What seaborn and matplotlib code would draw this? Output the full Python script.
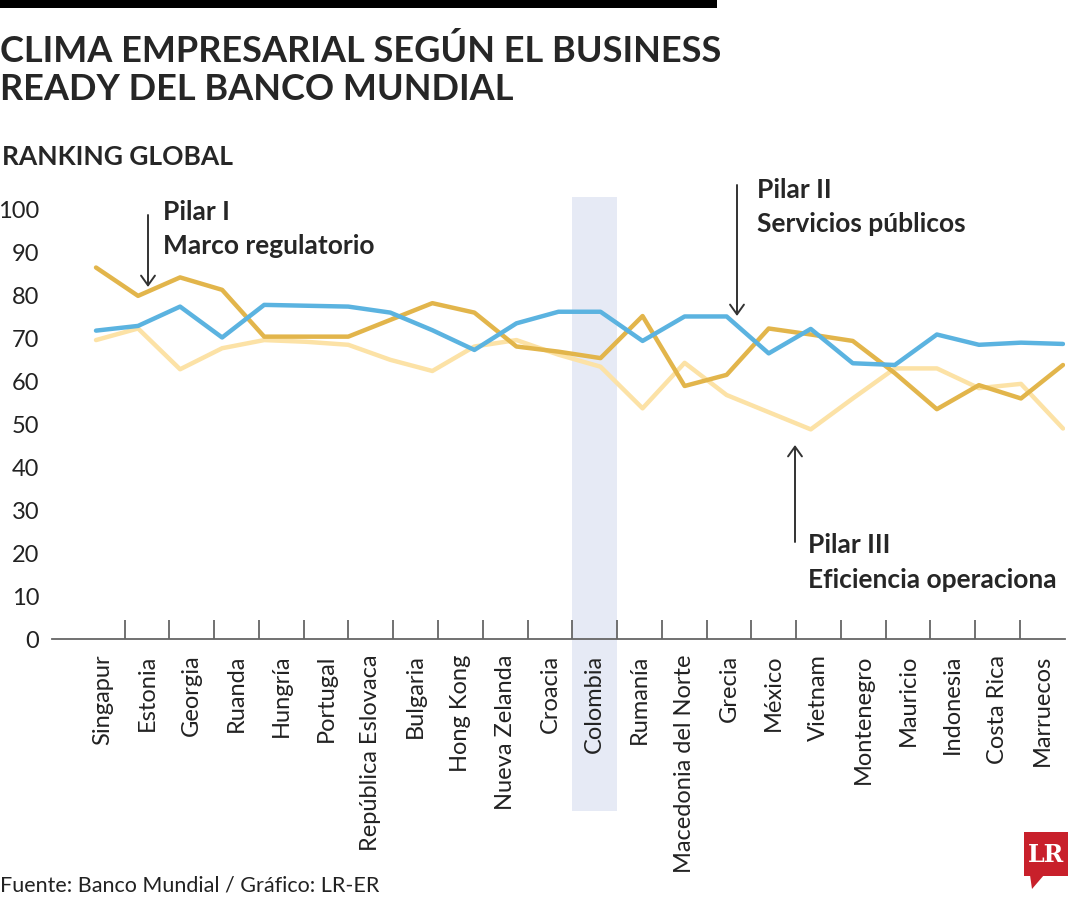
import numpy as np
import pandas as pd
import matplotlib
matplotlib.use("Agg")
import matplotlib.pyplot as plt
import seaborn as sns
from matplotlib import font_manager
from matplotlib.patches import Rectangle, Polygon, FancyArrowPatch

# Datos (ranking global, 0-100)
paises = ["Singapur", "Estonia", "Georgia", "Ruanda", "Hungría", "Portugal",
          "República Eslovaca", "Bulgaria", "Hong Kong", "Nueva Zelanda", "Croacia",
          "Colombia", "Rumanía", "Macedonia del Norte", "Grecia", "México", "Vietnam",
          "Montenegro", "Mauricio", "Indonesia", "Costa Rica", "Marruecos"]

# las líneas del original tienen 24 vértices (no coinciden con las 22 etiquetas)
pilar_1 = [86.6, 80.0, 84.3, 81.4, 70.5, 70.5, 70.5, 74.4, 78.3, 76.1, 68.2, 67.0,
           65.5, 75.3, 59.0, 61.6, 72.4, 71.0, 69.5, 62.0, 53.6, 59.2, 56.1, 63.9]
pilar_2 = [71.9, 73.0, 77.5, 70.3, 77.9, 77.7, 77.5, 76.1, 72.0, 67.4, 73.6, 76.3,
           76.3, 69.5, 75.2, 75.2, 66.6, 72.3, 64.3, 63.9, 71.0, 68.6, 69.1, 68.8]
pilar_3 = [69.7, 72.4, 62.9, 67.8, 69.7, 69.3, 68.6, 65.1, 62.5, 68.2, 69.7, 66.3,
           63.5, 53.8, 64.4, 56.9, 52.9, 48.9, 56.1, 63.1, 63.1, 58.5, 59.5, 49.1]

y_ticks = [0, 10, 20, 30, 40, 50, 60, 70, 80, 90, 100]

colores = {"Pilar III": "#FCE2A6", "Pilar I": "#E2B54B", "Pilar II": "#5BB3E0"}

W, H = 1080, 900


def fx(x):
    return x / W


def fy(y):
    return 1 - y / H


disponibles = {f.name for f in font_manager.fontManager.ttflist}
fuente = "Lato" if "Lato" in disponibles else "Liberation Sans"

sns.set_style("white")
plt.rcParams["font.family"] = [fuente, "DejaVu Sans"]

fig = plt.figure(figsize=(W / 100, H / 100), dpi=100)

# ejes principales (países)
ax_left, ax_right = 52, 1065
y0_px, px_por_unidad = 639.3, 4.293
ymax = 103
ax = fig.add_axes([fx(ax_left), fy(y0_px), (ax_right - ax_left) / W, ymax * px_por_unidad / H])
ax.set_ylim(0, ymax)
ax.set_xlim(-1.124, 21.508)

# franja de Colombia
banda_abajo = (y0_px - 811) / (ymax * px_por_unidad)
ax.axvspan(10.5, 11.5, ymin=banda_abajo, ymax=1, color="#E6EAF5", lw=0, clip_on=False, zorder=0)

ax.set_xticks(range(len(paises)))
ax.set_xticklabels(paises, rotation=90, fontsize=17, color="#222222")
ax.set_xticks([i + 0.5 for i in range(len(paises) - 1)], minor=True)
ax.tick_params(axis="x", which="major", length=0, pad=11)
ax.tick_params(axis="x", which="minor", direction="in", length=13.5, width=1.3, color="#666666")

ax.set_yticks(y_ticks)
ax.set_yticklabels([str(v) for v in y_ticks], fontsize=17, color="#222222")
ax.tick_params(axis="y", direction="in", length=11.5, width=1.3, color="#666666", pad=9)

for s in ["top", "right", "left"]:
    ax.spines[s].set_visible(False)
ax.spines["bottom"].set_color("#666666")
ax.spines["bottom"].set_linewidth(1.3)
ax.grid(False)

# líneas en un eje gemelo con sus propios vértices
ax_l = ax.twiny()
n = len(pilar_1)
df = pd.DataFrame({
    "pos": list(range(n)) * 3,
    "valor": pilar_3 + pilar_1 + pilar_2,
    "pilar": ["Pilar III"] * n + ["Pilar I"] * n + ["Pilar II"] * n,
})
sns.lineplot(data=df, x="pos", y="valor", hue="pilar", palette=colores,
             linewidth=3.2, legend=False, ax=ax_l)
ax_l.set_xlim(-(96 - ax_left) / 42.04, (n - 1) + (ax_right - 1063) / 42.04)
ax_l.set_ylim(0, ymax)
ax_l.set_xlabel("")
ax_l.set_ylabel("")
ax_l.set_xticks([])
ax_l.patch.set_visible(False)
for s in ax_l.spines.values():
    s.set_visible(False)

# barra superior y títulos
fig.patches.append(Rectangle((0, fy(8)), fx(717), 8 / H, transform=fig.transFigure,
                             color="black", lw=0))
fig.text(fx(0), fy(62), "CLIMA EMPRESARIAL SEGÚN EL BUSINESS", fontsize=26,
         fontweight="bold", va="baseline", ha="left")
fig.text(fx(0), fy(100), "READY DEL BANCO MUNDIAL", fontsize=26,
         fontweight="bold", va="baseline", ha="left")
fig.text(fx(2), fy(165), "RANKING GLOBAL", fontsize=19, fontweight="bold",
         va="baseline", ha="left")


def etiqueta(x, y1, y2, l1, l2):
    fig.text(fx(x), fy(y1), l1, fontsize=19, fontweight="bold", va="baseline", ha="left")
    fig.text(fx(x), fy(y2), l2, fontsize=19, fontweight="bold", va="baseline", ha="left")


def flecha(x, y_ini, y_fin):
    fig.add_artist(FancyArrowPatch(
        (fx(x), fy(y_ini)), (fx(x), fy(y_fin)), transform=fig.transFigure,
        arrowstyle="->,head_length=7,head_width=5", color="#333333", lw=1.4,
        shrinkA=0, shrinkB=0))


etiqueta(163, 220, 254, "Pilar I", "Marco regulatorio")
flecha(148, 215, 287)
etiqueta(757, 198, 232, "Pilar II", "Servicios públicos")
flecha(737, 185, 316)
etiqueta(808, 553, 588, "Pilar III", "Eficiencia operaciona")
flecha(795, 542, 445)

fig.text(fx(0), fy(892), "Fuente: Banco Mundial / Gráfico: LR-ER", fontsize=15.5,
         va="baseline", ha="left", color="#222222")

# logo LR
rojo = "#C8202B"
fig.patches.append(Rectangle((fx(1024), fy(876)), 44 / W, 44 / H, transform=fig.transFigure,
                             color=rojo, lw=0))
fig.patches.append(Polygon([(fx(1030), fy(875)), (fx(1044), fy(875)), (fx(1032), fy(889))],
                           closed=True, transform=fig.transFigure, color=rojo, lw=0))
fig.text(fx(1046), fy(855), "LR", fontsize=17, fontweight="bold", color="white",
         family="DejaVu Serif", ha="center", va="center")

fig.savefig("out.png", dpi=100)
